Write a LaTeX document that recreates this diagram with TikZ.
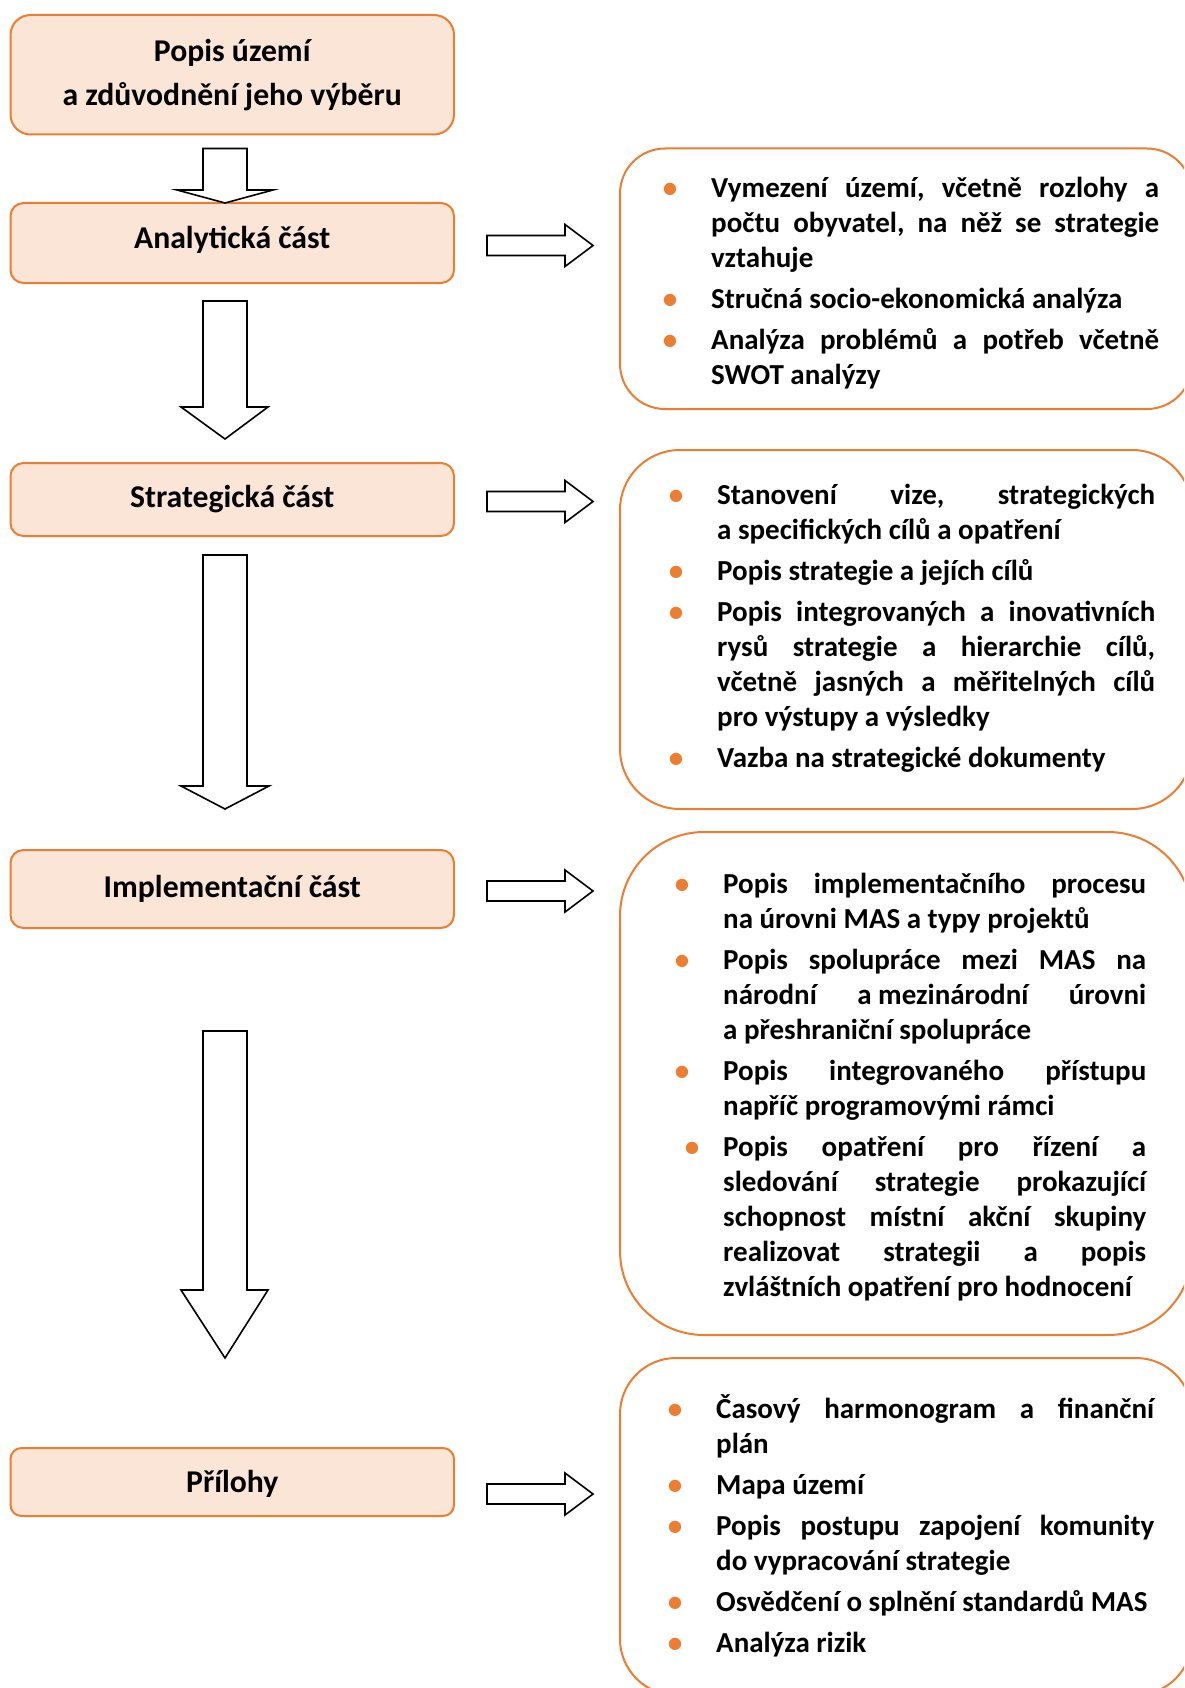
\documentclass[tikz,border=0pt]{standalone}
\usepackage{fontspec}
\setmainfont{Carlito}
\usepackage{tikz}
\definecolor{masorange}{HTML}{ED7D31}
\definecolor{maspeach}{HTML}{FBE5D6}

% radky seznamu: zarovnany do bloku / posledni radek
\newcommand{\jline}[1]{\hbox to \linewidth{\spaceskip=.226em plus 1fil\relax\xspaceskip=\spaceskip\relax #1}}
\newcommand{\lline}[1]{\hbox{#1}}
\newcommand{\bod}[1][41pt]{\llap{\makebox[0pt]{\textcolor{masorange}{\textbullet}}\hspace{#1}}}
\newcommand{\mezera}{\vspace{6pt}}

\tikzset{
  levybox/.style={draw=masorange, line width=2pt, fill=maspeach, rounded corners=13pt,
    minimum width=443.5pt, align=center, font=\fontsize{31.7pt}{44pt}\selectfont\bfseries},
  pravybox/.style={draw=masorange, line width=2pt, minimum width=572pt},
  seznam/.style={anchor=base west, inner sep=0pt, font=\fontsize{29pt}{35pt}\selectfont\bfseries\frenchspacing},
  sipka/.style={draw=black, line width=1.6pt, fill=white, line join=miter}
}

\begin{document}
\begin{tikzpicture}[x=1pt,y=-1pt]
\useasboundingbox (0,0) rectangle (1184,1688);
\clip (0,0) rectangle (1184,1688);

\node[levybox, minimum height=119.5pt, rounded corners=20pt] (popis) at (232.25,74.75) {Popis území\\a zdůvodnění jeho výběru};
\node[levybox, minimum height=80pt] (analyt) at (232.25,243) {\raisebox{3pt}[\height][\depth]{Analytická část}};
\node[levybox, minimum height=73pt] (strateg) at (232.25,499.5) {Strategická část};
\node[levybox, minimum height=78pt] (implem) at (232.25,889) {Implementační část};
\node[levybox, minimum height=68pt, rounded corners=11pt] (prilohy) at (232.25,1482) {\raisebox{-2pt}[\height][\depth]{Přílohy}};

\node[pravybox, minimum height=260.5pt, rounded corners=45pt] (analytbox) at (906,278.75) {};
\node[pravybox, minimum height=359pt, rounded corners=60pt] (strategbox) at (906,629.5) {};
\node[pravybox, minimum height=503pt, rounded corners=84pt] (implembox) at (906,1083.5) {};
\node[pravybox, minimum height=337pt, rounded corners=56pt] (prilohybox) at (906,1526.5) {};

\node[seznam] (analyttext) at (711,197.5) {\parbox[t]{448pt}{%
  \jline{\bod Vymezení území, včetně rozlohy a}\jline{počtu obyvatel, na něž se strategie}\lline{vztahuje}\mezera
  \lline{\bod Stručná socio-ekonomická analýza}\mezera
  \jline{\bod Analýza problémů a potřeb včetně}\lline{SWOT analýzy}}};

\node[seznam] (strategtext) at (717,504) {\parbox[t]{438pt}{%
  \jline{\bod Stanovení vize, strategických}\lline{a specifických cílů a opatření}\mezera
  \lline{\bod Popis strategie a jejích cílů}\mezera
  \jline{\bod Popis integrovaných a inovativních}\jline{rysů strategie a hierarchie cílů,}\jline{včetně jasných a měřitelných cílů}\lline{pro výstupy a výsledky}\mezera
  \lline{\bod Vazba na strategické dokumenty}}};

\node[seznam] (implemtext) at (723,893) {\parbox[t]{423pt}{%
  \jline{\bod Popis implementačního procesu}\lline{na úrovni MAS a typy projektů}\mezera
  \jline{\bod Popis spolupráce mezi MAS na}\jline{národní a\kern.226em mezinárodní úrovni}\lline{a přeshraniční spolupráce}\mezera
  \jline{\bod Popis integrovaného přístupu}\lline{napříč programovými rámci}\mezera
  \jline{\bod[31pt]Popis opatření pro řízení a}\jline{sledování strategie prokazující}\jline{schopnost místní akční skupiny}\jline{realizovat strategii a popis}\lline{zvláštních opatření pro hodnocení}}};

\node[seznam] (prilohytext) at (716,1418) {\parbox[t]{438pt}{%
  \jline{\bod Časový harmonogram a finanční}\lline{plán}\mezera
  \lline{\bod Mapa území}\mezera
  \jline{\bod Popis postupu zapojení komunity}\lline{do vypracování strategie}\mezera
  \lline{\bod Osvědčení o splnění standardů MAS}\mezera
  \lline{\bod Analýza rizik}}};

% sipky dolu
\draw[sipka] (203,148.5) -- (247,148.5) -- (247,190) -- (273,190) -- (225,203) -- (177,190) -- (203,190) -- cycle;
\draw[sipka] (203,301) -- (247,301) -- (247,407) -- (268,407) -- (225,439) -- (181,407) -- (203,407) -- cycle;
\draw[sipka] (203,555) -- (247,555) -- (247,786) -- (269,786) -- (225,809) -- (181,786) -- (203,786) -- cycle;
\draw[sipka] (203,1031) -- (247,1031) -- (247,1290) -- (268,1290) -- (225,1358) -- (181,1290) -- (203,1290) -- cycle;

% sipky doprava
\foreach \y in {245.5,501.5,891,1494}
  \draw[sipka] (487,\y-10) -- (565,\y-10) -- (565,\y-21) -- (593,\y) -- (565,\y+21) -- (565,\y+10) -- (487,\y+10) -- cycle;
\end{tikzpicture}
\end{document}
